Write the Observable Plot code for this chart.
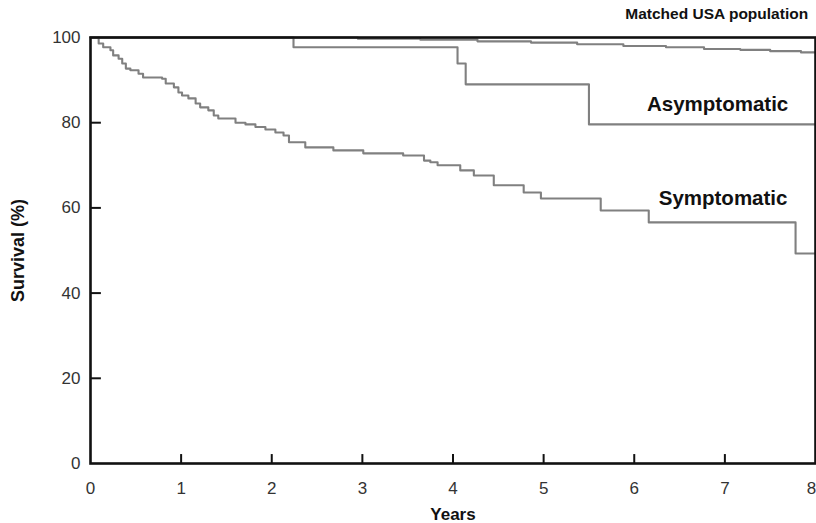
<!DOCTYPE html>
<html>
<head>
<meta charset="utf-8">
<script src="https://cdn.jsdelivr.net/npm/d3@7"></script>
<script src="https://cdn.jsdelivr.net/npm/@observablehq/plot@0.6"></script>
<style>
  html, body { margin: 0; padding: 0; background: #fff; }
  #chart svg { display: block; }
</style>
</head>
<body>
<div id="chart"></div>
<script>
// Kaplan-Meier survival, years vs %
const symptomaticYears = [0, 0.09, 0.14, 0.22, 0.25, 0.31, 0.35, 0.39, 0.44, 0.53, 0.58, 0.79, 0.83, 0.92, 0.97, 1.01, 1.08, 1.16, 1.21, 1.30, 1.36, 1.41, 1.60, 1.71, 1.82, 1.93, 2.04, 2.13, 2.19, 2.37, 2.68, 3.01, 3.45, 3.68, 3.75, 3.83, 4.08, 4.23, 4.45, 4.78, 4.97, 5.63, 6.16, 7.78, 8.0];
const symptomaticSurvival = [100, 98.6, 97.7, 97.0, 95.8, 95.0, 93.9, 92.7, 92.3, 91.5, 90.6, 90.3, 89.2, 88.3, 87.1, 86.4, 85.7, 84.5, 83.6, 82.9, 81.7, 81.0, 80.0, 79.6, 79.0, 78.4, 77.7, 77.0, 75.4, 74.2, 73.5, 72.8, 72.3, 71.1, 70.7, 70.0, 68.8, 67.6, 65.3, 63.6, 62.2, 59.4, 56.6, 49.3, 49.3];

const asymptomaticYears = [0, 2.24, 4.05, 4.14, 5.50, 8.0];
const asymptomaticSurvival = [100, 97.7, 93.9, 89.0, 79.6, 79.6];

const matchedYears = [0, 2.95, 3.64, 4.27, 4.86, 5.37, 5.88, 6.35, 6.77, 7.17, 7.50, 7.84, 8.0];
const matchedSurvival = [100, 99.7, 99.5, 99.1, 98.8, 98.4, 98.0, 97.7, 97.3, 97.1, 96.8, 96.5, 96.5];

const xTicks = [0, 1, 2, 3, 4, 5, 6, 7, 8];
const yTicks = [0, 20, 40, 60, 80, 100];

const topLabel = "Matched USA population";
const topLabelYear = 6.91;
const topLabelSurvival = 105.6;
const curveLabels = ["Asymptomatic", "Symptomatic"];
const curveLabelYears = [6.92, 6.98];
const curveLabelSurvival = [84.3, 62.2];

const xTitle = "Years";
const yTitle = "Survival (%)";

const toRows = (xs, ys, name) => xs.map((x, i) => ({x, y: ys[i], name}));
const rows = [
  ...toRows(symptomaticYears, symptomaticSurvival, "Symptomatic"),
  ...toRows(asymptomaticYears, asymptomaticSurvival, "Asymptomatic"),
  ...toRows(matchedYears, matchedSurvival, "Matched USA population")
];
const labels = curveLabels.map((n, i) => ({name: n, x: curveLabelYears[i], y: curveLabelSurvival[i]}));

const tickFont = "'Liberation Sans Narrow', 'Arial Narrow', 'Liberation Sans', Arial, sans-serif";
const boldFont = "'Liberation Sans', Arial, Helvetica, sans-serif";

const chart = Plot.plot({
  width: 816,
  height: 523,
  marginLeft: 90,
  marginRight: 1,
  marginTop: 37,
  marginBottom: 60,
  style: {fontFamily: tickFont, fontSize: "16px", color: "#222", background: "#fff"},
  x: {domain: [0, 8]},
  y: {domain: [0, 100]},
  marks: [
    Plot.line(rows, {x: "x", y: "y", z: "name", curve: "step-after", stroke: "#808080", strokeWidth: 2.1}),
    Plot.ruleX(xTicks.slice(1, -1), {x: d => d, y1: 0, y2: 2.1, stroke: "#111", strokeWidth: 2}),
    Plot.ruleY(yTicks.slice(1, -1), {y: d => d, x1: 0, x2: 0.12, stroke: "#111", strokeWidth: 2}),
    Plot.frame({stroke: "#111", strokeWidth: 2.6}),
    Plot.axisX({ticks: xTicks.slice(0, -1), tickSize: 0, tickPadding: 18, label: null, fontSize: 17, fontFamily: tickFont, fill: "#333", tickFormat: d => String(d)}),
    Plot.axisX({ticks: xTicks.slice(-1), tickSize: 0, tickPadding: 18, label: null, fontSize: 17, fontFamily: tickFont, fill: "#333", dx: -4, tickFormat: d => String(d)}),
    Plot.axisY({ticks: yTicks, tickSize: 0, tickPadding: 10, label: null, fontSize: 17, fontFamily: tickFont, fill: "#333", tickFormat: d => String(d)}),
    Plot.text([topLabel], {x: topLabelYear, y: topLabelSurvival, text: d => d, fontWeight: "bold", fontSize: 15.5, fontFamily: boldFont, fill: "#111"}),
    Plot.text(labels, {x: "x", y: "y", text: "name", fontWeight: "bold", fontSize: 20.5, fontFamily: boldFont, fill: "#111"}),
    Plot.text([xTitle], {frameAnchor: "bottom", dy: 56, text: d => d, fontWeight: "bold", fontSize: 17, fontFamily: boldFont, fill: "#111"}),
    Plot.text([yTitle], {frameAnchor: "left", dx: -72, rotate: -90, textAnchor: "middle", text: d => d, fontWeight: "bold", fontSize: 18, fontFamily: boldFont, fill: "#111"})
  ]
});
document.getElementById("chart").appendChild(chart);
</script>
</body>
</html>
